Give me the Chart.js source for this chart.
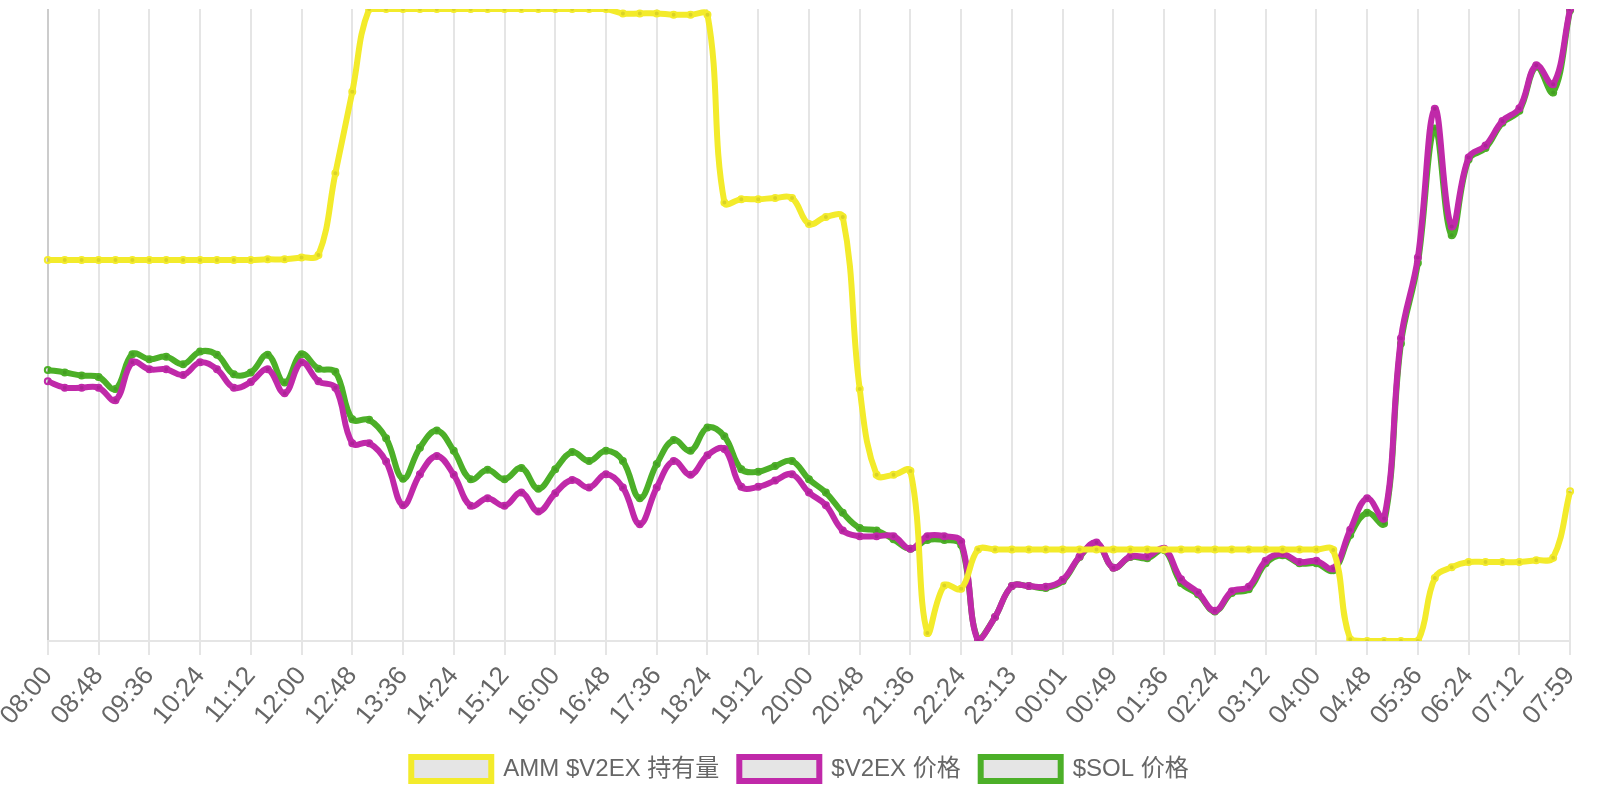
<!DOCTYPE html>
<html>
<head>
<meta charset="utf-8">
<script src="https://cdn.jsdelivr.net/npm/chart.js@4.4.1/dist/chart.umd.min.js"></script>
<style>
html,body{margin:0;padding:0;background:#fff;}
#wrap{width:1600px;height:800px;position:relative;}
</style>
</head>
<body>
<div id="wrap"><canvas id="c"></canvas></div>
<script>
const timeLabels = [
"08:00","08:16","08:32","08:48","09:04","09:20","09:36","09:52","10:08","10:24",
"10:40","10:56","11:12","11:28","11:44","12:00","12:16","12:32","12:48","13:04",
"13:20","13:36","13:52","14:08","14:24","14:40","14:56","15:12","15:28","15:44",
"16:00","16:16","16:32","16:48","17:04","17:20","17:36","17:52","18:08","18:24",
"18:40","18:56","19:12","19:28","19:44","20:00","20:16","20:32","20:48","21:04",
"21:20","21:36","21:52","22:08","22:24","22:40","22:57","23:13","23:29","23:45",
"00:01","00:17","00:33","00:49","01:04","01:20","01:36","01:52","02:08","02:24",
"02:40","02:56","03:12","03:28","03:44","04:00","04:16","04:32","04:48","05:04",
"05:20","05:36","05:52","06:08","06:24","06:40","06:56","07:12","07:28","07:44",
"07:59"];

const seriesNames = ["AMM $V2EX 持有量", "$V2EX 价格", "$SOL 价格"];

// Values, each series on its own relative 0-100 range
const ammHolding = [
60.3,60.3,60.3,60.3,60.3,60.3,60.3,60.3,60.3,60.3,
60.3,60.3,60.3,60.4,60.4,60.7,61.1,74.0,86.9,100.0,
100.0,100.0,100.0,100.0,100.0,100.0,100.0,100.0,100.0,100.0,
100.0,100.0,100.0,100.0,99.3,99.3,99.3,99.1,99.1,99.1,
69.4,69.9,69.9,70.1,70.1,66.0,67.1,67.1,39.9,26.3,
26.3,26.9,1.3,8.8,8.3,14.5,14.5,14.5,14.5,14.5,
14.5,14.5,14.5,14.5,14.5,14.5,14.5,14.5,14.5,14.5,
14.5,14.5,14.5,14.5,14.5,14.5,14.4,0.3,0.0,0.0,
0.0,0.0,10.0,11.7,12.5,12.5,12.5,12.5,12.8,13.2,
23.7];

const v2exPrice = [
41.1,40.1,40.1,40.1,38.1,44.1,43.0,43.0,42.1,44.1,
43.0,40.1,41.0,43.0,39.2,44.1,41.1,40.1,31.3,31.3,
28.4,21.5,26.4,29.3,26.3,21.4,22.6,21.4,23.5,20.5,
23.4,25.5,24.3,26.4,24.3,18.5,24.3,28.5,26.3,29.4,
30.4,24.4,24.4,25.4,26.4,23.5,21.5,17.5,16.6,16.6,
16.6,14.6,16.6,16.6,15.7,0.0,3.8,8.7,8.7,8.6,
9.7,13.4,15.6,11.6,13.4,13.4,14.6,9.8,7.7,4.8,
7.9,8.6,12.7,13.8,12.5,12.7,11.5,17.6,22.6,19.4,
47.9,60.7,84.2,65.6,76.5,78.4,82.3,84.3,91.1,88.1,
100.0];

const solPrice = [
42.9,42.5,42.0,41.8,39.9,45.4,44.6,45.0,43.8,45.8,
45.3,42.2,42.5,45.3,40.9,45.4,43.1,42.6,35.1,35.0,
32.1,25.7,30.6,33.3,30.1,25.6,27.1,25.6,27.4,24.1,
27.2,29.9,28.5,30.1,28.5,22.6,28.0,31.8,30.1,33.8,
32.4,27.2,26.8,27.7,28.5,25.6,23.5,20.3,17.9,17.5,
16.1,14.6,16.0,16.0,15.2,0.2,3.8,8.7,8.7,8.4,
9.5,13.3,15.5,11.6,13.3,13.1,14.4,9.2,7.4,4.7,
7.6,8.2,12.3,13.6,12.3,12.3,11.2,16.8,20.3,18.6,
47.1,59.8,81.1,64.2,76.2,78.0,82.0,83.9,90.9,86.8,
99.8];

const seriesColors = ["rgb(243,235,43)", "rgb(192,41,169)", "rgb(76,175,40)"];
const seriesValues = [ammHolding, v2exPrice, solPrice];

const FONT = "'Helvetica Neue', Helvetica, Arial, 'Liberation Sans', 'Noto Sans CJK SC', sans-serif";

const datasets = seriesNames.map((name, k) => ({
  label: name,
  data: seriesValues[k],
  borderColor: seriesColors[k],
  backgroundColor: 'rgba(0,0,0,0.1)',
  pointBackgroundColor: 'rgba(0,0,0,0.1)',
  pointBorderColor: seriesColors[k],
  borderWidth: 6,
  pointRadius: 3,
  pointBorderWidth: 2,
  tension: 0.4,
  fill: false
}));

new Chart(document.getElementById('c'), {
  type: 'line',
  data: { labels: timeLabels, datasets },
  options: {
    responsive: true,
    maintainAspectRatio: false,
    animation: false,
    layout: { padding: { top: 9, right: 0, left: 0, bottom: 9 } },
    plugins: {
      tooltip: { enabled: false },
      legend: {
        display: true,
        position: 'bottom',
        labels: {
          color: '#666',
          font: { size: 24, family: FONT },
          boxWidth: 80,
          boxHeight: 24,
          padding: 20
        }
      }
    },
    scales: {
      x: {
        ticks: {
          autoSkip: false,
          minRotation: 50,
          maxRotation: 50,
          padding: 6,
          color: '#666',
          font: { size: 26, family: FONT },
          callback: function(v, i) { return i % 3 === 0 ? timeLabels[i] : ''; }
        },
        grid: {
          lineWidth: 2,
          tickLength: 14,
          color: (ctx) => ctx.index % 3 !== 0 ? 'rgba(0,0,0,0)' : (ctx.index === 0 ? 'rgba(0,0,0,0.2)' : 'rgba(0,0,0,0.1)'),
          tickColor: (ctx) => ctx.index % 3 !== 0 ? 'rgba(0,0,0,0)' : 'rgba(0,0,0,0.1)'
        },
        border: { display: true, color: 'rgba(0,0,0,0.1)', width: 2 }
      },
      y: {
        display: false,
        min: 0,
        max: 100
      }
    }
  }
});
</script>
</body>
</html>
